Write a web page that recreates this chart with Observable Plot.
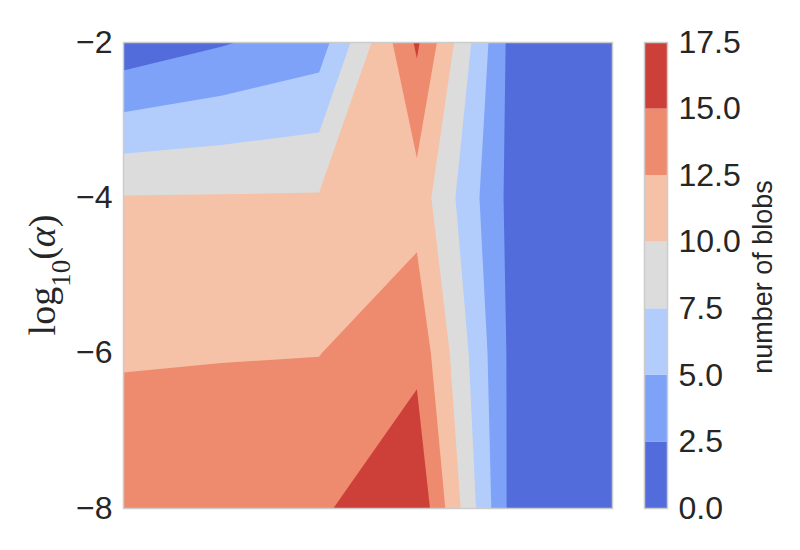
<!DOCTYPE html>
<html><head><meta charset="utf-8">
<script src="https://cdn.jsdelivr.net/npm/d3@7"></script>
<script src="https://cdn.jsdelivr.net/npm/@observablehq/plot@0.6"></script>
<style>
body{margin:0;background:#fff;}
#chart{position:relative;width:800px;height:550px;background:#fff;font-family:"Liberation Sans",Arial,sans-serif;}
#chart svg{position:absolute;left:0;top:0;overflow:visible;}
</style></head><body><div id="chart"></div>
<script>
// grid columns (abstract x, no axis shown) and rows (log10 alpha)
const xColumns = [0, 1, 2, 3, 4, 5];
const logAlpha = [-8, -6, -4, -2];
// number of blobs per row (one value per x column)
const blobsAtM8 = [13.9, 14.27, 14.64, 17.14, 1.18, 0.8];
const blobsAtM6 = [12.3, 12.38, 12.45, 14.35, 1.4, 0.8];
const blobsAtM4 = [10.14, 10.18, 10.22, 11.5, 1.34, 0.8];
const blobsAtM2 = [0.82, 2.29, 3.75, 15.4, 1.18, 0.8];
// contour levels and colours
const levels = [0, 2.5, 5, 7.5, 10, 12.5, 15, 17.5];
const levelColors = ["#526ddb", "#7ea2f8", "#b2cdfb", "#dddcdc", "#f5c1a7", "#ee8a6d", "#cc4039"];
const yTicks = [-8, -6, -4, -2];

const grid = [...blobsAtM8, ...blobsAtM6, ...blobsAtM4, ...blobsAtM2];
const dx = xColumns[1] - xColumns[0];
const dy = logAlpha[1] - logAlpha[0];
const color = {type: "threshold", domain: levels.slice(1, -1), range: levelColors};
const font = "'Liberation Sans', Arial, sans-serif";

const main = Plot.plot({
  width: 800, height: 550,
  marginLeft: 123, marginRight: 188, marginTop: 42, marginBottom: 42,
  style: {fontFamily: font, fontSize: "32px", color: "#262626", background: "transparent"},
  x: {domain: [xColumns[0], xColumns[xColumns.length - 1]], axis: null},
  y: {domain: [logAlpha[0], logAlpha[logAlpha.length - 1]], ticks: yTicks, tickFormat: d3.format("d"), tickSize: 0, tickPadding: 11, label: null},
  color,
  marks: [
    Plot.contour(grid, {
      width: xColumns.length, height: logAlpha.length,
      x1: xColumns[0] - dx / 2, x2: xColumns[xColumns.length - 1] + dx / 2,
      y1: logAlpha[0] - dy / 2, y2: logAlpha[logAlpha.length - 1] + dy / 2,
      fill: Plot.identity, thresholds: levels.slice(0, -1), clip: true
    }),
    Plot.frame({stroke: "#cccccc", strokeWidth: 1.5})
  ]
});

const bins = levelColors.map((c, i) => ({lo: levels[i], hi: levels[i + 1]}));
const cbar = Plot.plot({
  width: 800, height: 550,
  marginLeft: 644, marginRight: 133, marginTop: 42, marginBottom: 42,
  style: {fontFamily: font, fontSize: "32px", color: "#262626", background: "transparent"},
  x: {domain: [0, 1], axis: null},
  y: {domain: [levels[0], levels[levels.length - 1]], ticks: levels, tickFormat: d3.format(".1f"), axis: "right", tickSize: 0, tickPadding: 11, label: null},
  color,
  marks: [
    Plot.rect(bins, {x1: 0, x2: 1, y1: "lo", y2: "hi", fill: "lo"}),
    Plot.frame({stroke: "#cccccc", strokeWidth: 1.5})
  ]
});

const chart = document.getElementById("chart");
chart.appendChild(main);
chart.appendChild(cbar);

// y-axis label: log10(alpha)
const yl = d3.select(main).append("text")
  .attr("transform", "translate(55,275) rotate(-90)")
  .attr("text-anchor", "middle")
  .attr("fill", "#262626")
  .style("font-family", "'Liberation Serif', 'DejaVu Serif', serif")
  .style("font-size", "38px");
yl.append("tspan").text("log");
yl.append("tspan").attr("baseline-shift", "sub").style("font-size", "27px").text("10");
yl.append("tspan").text("(");
yl.append("tspan").style("font-style", "italic").text("α");
yl.append("tspan").text(")");

// colorbar label
d3.select(cbar).append("text")
  .attr("transform", "translate(772,277) rotate(-90)")
  .attr("text-anchor", "middle")
  .attr("fill", "#262626")
  .style("font-family", font)
  .style("font-size", "27px")
  .text("number of blobs");
</script></body></html>
